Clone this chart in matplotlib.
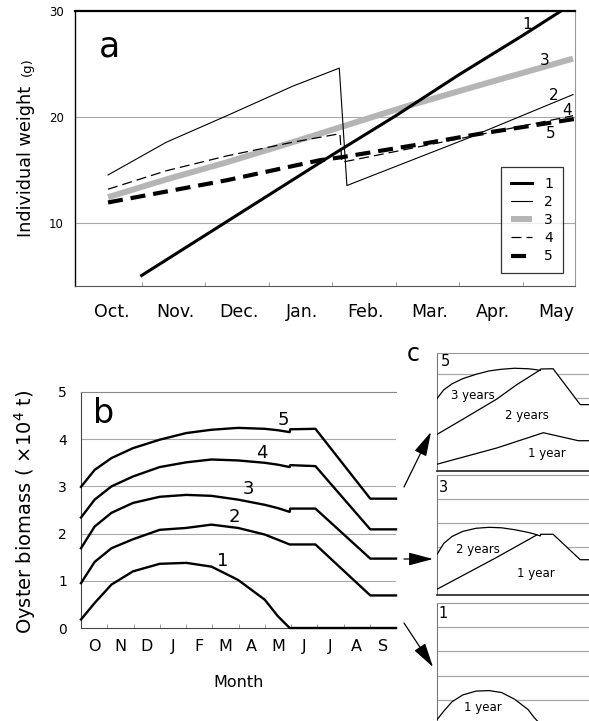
import numpy as np
import matplotlib
matplotlib.use('Agg')
import matplotlib.pyplot as plt
from matplotlib.patches import FancyArrowPatch

plt.rcParams['font.family'] = ['DejaVu Sans']

# ---------------- Panel a : individual weight (g) ----------------
a_months = ['Oct.', 'Nov.', 'Dec.', 'Jan.', 'Feb.', 'Mar.', 'Apr.', 'May']
a1_x = [1.0, 2.0, 3.0, 4.0, 5.0, 6.0, 7.0, 7.6]
a1_y = [5.0, 8.8, 12.6, 16.4, 20.1, 24.0, 27.7, 30.0]
a2_x = [0.47, 1.39, 2.34, 3.38, 4.11, 4.23, 6.06, 7.79]
a2_y = [14.5, 17.6, 20.1, 22.9, 24.6, 13.5, 17.8, 22.1]
a3_x = [0.47, 1.4, 2.34, 3.38, 3.96, 5.12, 6.5, 7.79]
a3_y = [12.4, 14.1, 15.7, 17.6, 18.7, 20.9, 23.3, 25.5]
a4_x = [0.47, 1.39, 2.34, 3.38, 4.12, 4.15, 6.06, 7.79]
a4_y = [13.15, 14.9, 16.3, 17.6, 18.4, 15.7, 18.0, 20.1]
a5_x = [0.47, 2.34, 3.81, 4.17, 5.38, 6.33, 7.82]
a5_y = [11.9, 14.0, 15.9, 16.2, 17.4, 18.4, 19.8]
a_series = ['1', '2', '3', '4', '5']

# ---------------- Panel b : oyster biomass (x10^4 t) ----------------
b_month_labels = ['O', 'N', 'D', 'J', 'F', 'M', 'A', 'M', 'J', 'J', 'A', 'S']
b_x = [0, 0.52, 1.16, 1.98, 3.0, 4.01, 4.97, 5.98, 7.0, 7.5, 7.95, 7.97, 8.93, 11.02, 12]
b1 = [0.18, 0.53, 0.92, 1.20, 1.36, 1.38, 1.30, 1.02, 0.60, 0.25, 0.0, 0.0, 0.0, 0.0, 0.0]
b2 = [0.95, 1.40, 1.69, 1.88, 2.08, 2.12, 2.19, 2.12, 1.98, 1.87, 1.77, 1.77, 1.77, 0.69, 0.69]
b3 = [1.69, 2.15, 2.44, 2.65, 2.78, 2.82, 2.80, 2.72, 2.61, 2.54, 2.46, 2.53, 2.53, 1.47, 1.47]
b4 = [2.34, 2.72, 3.00, 3.21, 3.41, 3.51, 3.57, 3.55, 3.50, 3.46, 3.41, 3.45, 3.43, 2.09, 2.09]
b5 = [2.99, 3.35, 3.60, 3.81, 3.99, 4.13, 4.20, 4.24, 4.22, 4.19, 4.15, 4.21, 4.22, 2.74, 2.74]

# ---------------- Panel c : age-class breakdown (cumulative) ----------------
c5_2y_x = [0, 2.0, 4.6, 6.1, 7.9]
c5_2y_y = [1.51, 2.14, 2.97, 3.55, 4.16]
c5_1y_x = [0, 4.6, 8.18, 10.87, 12]
c5_1y_y = [0.28, 0.95, 1.58, 1.25, 1.25]
c3_1y_x = [0, 4.6, 7.67]
c3_1y_y = [0.24, 1.57, 2.50]

W, H = 589, 721
fig = plt.figure(figsize=(W / 100, H / 100), dpi=100)


def rect(l, t, r, b):
    return [l / W, 1 - b / H, (r - l) / W, (b - t) / H]


GRID = '#a8a8a8'

# ======================= Panel a =======================
ax = fig.add_axes(rect(75, 11, 575, 286))
ax.set_xlim(-0.05, 7.82)
ax.set_ylim(4, 30)
for v in [10, 20]:
    ax.axhline(v, color=GRID, lw=0.8, zorder=0)
ax.plot(a3_x, a3_y, color='#b5b5b5', lw=4.3, solid_capstyle='butt', zorder=2, label=a_series[2])
ax.plot(a1_x, a1_y, color='black', lw=2.2, zorder=3, label=a_series[0])
ax.plot(a2_x, a2_y, color='black', lw=0.8, zorder=3, label=a_series[1])
ax.plot(a4_x, a4_y, color='black', lw=0.9, ls=(0, (8, 4)), zorder=3, label=a_series[3])
ax.plot(a5_x, a5_y, color='black', lw=3.0, ls=(0, (3.6, 1.9)), zorder=3, label=a_series[4])
handles, labels = ax.get_legend_handles_labels()
order = [labels.index(s) for s in a_series]
leg = ax.legend([handles[i] for i in order], [labels[i] for i in order],
                loc='upper left', bbox_to_anchor=((501 - 75) / 500, 1 - (167 - 11) / 275),
                borderaxespad=0, frameon=True, fancybox=False, edgecolor='black',
                fontsize=10, handlelength=1.5, labelspacing=0.3, handletextpad=0.9,
                borderpad=0.7)
leg.get_frame().set_linewidth(0.9)

ax.set_xticks(np.arange(len(a_months)) + 0.53)
ax.set_xticklabels(a_months, fontsize=12.5)
ax.tick_params(axis='x', length=0, pad=12)
ax.set_xticks(np.arange(1, len(a_months)), minor=True)
ax.tick_params(axis='x', which='minor', direction='in', length=3, color='#888')
ax.set_yticks([10, 20, 30])
ax.tick_params(axis='y', length=0, labelsize=8.5, pad=8)
ax.spines['top'].set_linewidth(1.6)
ax.spines['left'].set_color('black')
ax.spines['left'].set_linewidth(1.0)
ax.spines['bottom'].set_color('#555')
ax.spines['right'].set_color('#999')
ax.spines['right'].set_linewidth(0.8)

lab_a = {'1': (7.06, 28.7), '3': (7.35, 25.3), '2': (7.48, 22.0), '4': (7.69, 20.6), '5': (7.43, 18.4)}
for k, (xx, yy) in lab_a.items():
    ax.text(xx, yy, k, fontsize=11, ha='center', va='center', zorder=5)
ax.text(0.5, 26.6, 'a', fontsize=25, ha='center', va='center')

# ======================= Panel b =======================
bx = fig.add_axes(rect(81, 392, 396, 628))
bx.set_xlim(0, 12)
bx.set_ylim(0, 5)
for v in [1, 2, 3, 4]:
    bx.axhline(v, color=GRID, lw=0.8, zorder=0)
for yy in [b1, b2, b3, b4, b5]:
    bx.plot(b_x, yy, color='black', lw=1.7, zorder=3, clip_on=False)
bx.set_xticks(np.arange(12) + 0.5)
bx.set_xticklabels(b_month_labels, fontsize=11.5)
bx.tick_params(axis='x', length=0, pad=8)
bx.set_xticks(np.arange(1, 12), minor=True)
bx.tick_params(axis='x', which='minor', direction='in', length=3, color='#888')
bx.set_yticks([0, 1, 2, 3, 4, 5])
bx.tick_params(axis='y', length=0, labelsize=10, pad=10)
bx.spines['right'].set_visible(False)
bx.spines['top'].set_color('#888')
bx.spines['top'].set_linewidth(0.8)
bx.spines['left'].set_color('#444')
bx.spines['bottom'].set_color('#444')
lab_b = {'5': (7.7, 4.40), '4': (6.87, 3.71), '3': (6.36, 2.94), '2': (5.85, 2.36), '1': (5.41, 1.41)}
for k, (xx, yy) in lab_b.items():
    bx.text(xx, yy, k, fontsize=13, ha='center', va='center', zorder=5)
bx.text(0.86, 4.54, 'b', fontsize=24, ha='center', va='center')
bx.set_xlabel('Month', fontsize=11.5, labelpad=15)

# ======================= Panel c =======================
def sub_axes(t, b, ymax):
    s = fig.add_axes(rect(437, t, 593, b))
    s.set_xlim(0, 12)
    s.set_ylim(0, ymax)
    s.set_xticks([])
    s.set_yticks([])
    for v in [1, 2, 3, 4]:
        s.axhline(v, color=GRID, lw=0.9, zorder=0.5)
    s.spines['right'].set_visible(False)
    s.spines['top'].set_color('#999')
    s.spines['left'].set_color('#777')
    s.spines['bottom'].set_color('#333')
    s.spines['bottom'].set_linewidth(1.3)
    return s


s5 = sub_axes(353, 471, 4.87)
s5.fill_between(b_x, 0, b5, color='white', zorder=1)
s5.plot(b_x, b5, color='black', lw=0.9, zorder=3)
s5.plot(c5_2y_x, c5_2y_y, color='black', lw=0.9, zorder=3)
s5.plot(c5_1y_x, c5_1y_y, color='black', lw=0.9, zorder=3)

s3 = sub_axes(475, 595, 5)
s3.fill_between(b_x, 0, b3, color='white', zorder=1)
s3.plot(b_x, b3, color='black', lw=0.9, zorder=3)
s3.plot(c3_1y_x, c3_1y_y, color='black', lw=0.9, zorder=3)

s1 = sub_axes(603, 724, 5)
s1.fill_between(b_x, 0, b1, color='white', zorder=1)
s1.plot(b_x, b1, color='black', lw=0.9, zorder=3)

# ======================= overlay (pixel coordinates) =======================
ov = fig.add_axes([0, 0, 1, 1])
ov.set_xlim(0, W)
ov.set_ylim(H, 0)
ov.axis('off')
ov.patch.set_alpha(0)

# y labels
ov.text(31, 161.5, 'Individual weight', rotation=90, rotation_mode='anchor',
        ha='center', va='baseline', fontsize=12.7)
ov.text(31, 67, '(g)', rotation=90, rotation_mode='anchor',
        ha='center', va='baseline', fontsize=9.5)
ov.text(25, 512, 'Oyster biomass ( \u00d710$^{4}$ t)', rotation=90,
        ha='center', va='center', fontsize=14)

ov.text(413, 354, 'c', fontsize=17, ha='center', va='center')
sub_texts = [('5', 445, 362, 10.5), ('3', 443, 487, 10.5), ('1', 443, 613, 10.5),
             ('3 years', 473, 395, 8.5), ('2 years', 527, 415, 8.5), ('1 year', 547, 453, 8.5),
             ('2 years', 478, 549, 8.5), ('1 year', 536, 573, 8.5), ('1 year', 483, 708, 8.5)]
for t, xx, yy, fs in sub_texts:
    ov.text(xx, yy, t, fontsize=fs, ha='center', va='center', zorder=10)

for (x0, y0), (x1, y1) in [((404, 487), (431, 432)), ((404, 559), (433, 559)),
                           ((404, 623), (433, 667))]:
    ov.add_patch(FancyArrowPatch((x0, y0), (x1, y1),
                                 arrowstyle='-|>,head_length=0.75,head_width=0.2',
                                 mutation_scale=20, color='black', lw=0.9,
                                 shrinkA=0, shrinkB=0))

fig.savefig('out.png', dpi=100)
